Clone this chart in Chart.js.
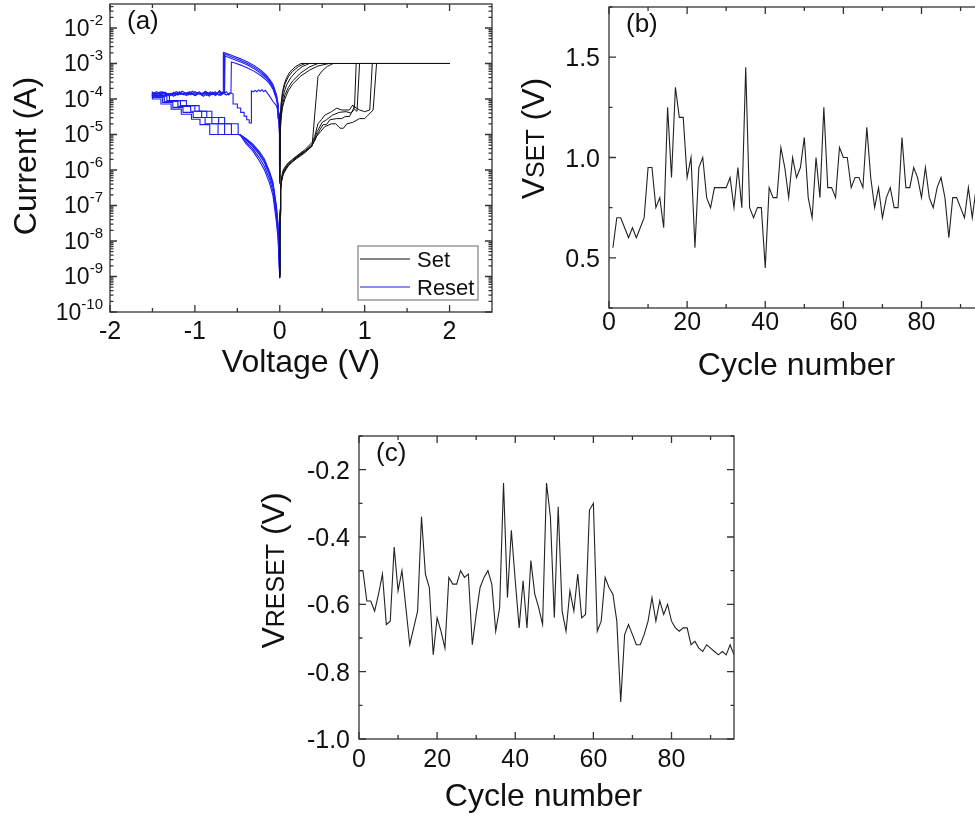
<!DOCTYPE html>
<html>
<head>
<meta charset="utf-8">
<script src="https://cdn.jsdelivr.net/npm/chart.js@4.4.1/dist/chart.umd.min.js"></script>
<style>
  html, body { margin: 0; padding: 0; background: #fff; overflow: hidden; width: 975px; height: 816px; }
  canvas { position: absolute; }
</style>
</head>
<body>
<canvas id="graficoIV" width="510" height="400" style="left:0;top:0"></canvas>
<canvas id="graficoVset" width="500" height="400" style="left:500px;top:0"></canvas>
<canvas id="graficoVreset" width="500" height="396" style="left:250px;top:420px"></canvas>
<script>
// ---- (a) barridos I-V: pares [voltaje (V), corriente (A)] ----
const setSweep1 = [[0,9e-10],[0.003,6e-8],[0.01,3e-7],[0.02,5e-7],[0.04,8e-7],[0.07,1.1e-6],[0.1,1.4e-6],[0.15,1.8e-6],[0.2,2.3e-6],[0.3,3.4e-6],[0.38,4.6e-6],[0.45,4.3e-4],[0.5,6.2e-4],[0.56,8.3e-4],[0.63,1e-3],[2,1e-3],[0.3,1e-3],[0.22,8.2e-4],[0.15,6e-4],[0.1,4.2e-4],[0.06,2.6e-4],[0.04,1.7e-4],[0.02,8.5e-5],[0.01,4e-5],[0.004,1.2e-5],[0,5e-7]];
const setSweep2 = [[0,1.2e-9],[0.003,8e-8],[0.01,3.5e-7],[0.02,6e-7],[0.04,1e-6],[0.07,1.3e-6],[0.1,1.6e-6],[0.15,2e-6],[0.2,2.5e-6],[0.3,3.8e-6],[0.38,6e-6],[0.41,8.7e-6],[0.45,2e-5],[0.49,2.6e-5],[0.53,3.5e-5],[0.61,4.4e-5],[0.67,5.5e-5],[0.73,4.9e-5],[0.82,4.9e-5],[0.86,6.8e-5],[0.88,5.5e-5],[0.9,1e-3],[2,1e-3],[0.25,1e-3],[0.18,8e-4],[0.12,5.8e-4],[0.08,4e-4],[0.05,2.5e-4],[0.03,1.5e-4],[0.015,7e-5],[0.006,2.5e-5],[0,6e-7]];
const setSweep3 = [[0,1e-9],[0.003,5e-8],[0.01,2.6e-7],[0.02,4.5e-7],[0.04,7.5e-7],[0.07,1e-6],[0.1,1.3e-6],[0.15,1.7e-6],[0.2,2.1e-6],[0.3,3.1e-6],[0.38,4.8e-6],[0.44,1.2e-5],[0.5,2.2e-5],[0.55,2.6e-5],[0.62,3.5e-5],[0.7,4.2e-5],[0.78,4.4e-5],[0.84,4e-5],[0.88,5.2e-5],[0.91,4.5e-5],[0.94,1e-3],[2,1e-3],[0.45,1e-3],[0.35,8e-4],[0.25,5.5e-4],[0.15,3.2e-4],[0.1,2.1e-4],[0.06,1.3e-4],[0.03,6.5e-5],[0.015,3e-5],[0.005,1e-5],[0,4.5e-7]];
const setSweep4 = [[0,1e-9],[0.003,7e-8],[0.01,3.2e-7],[0.02,5.5e-7],[0.04,9e-7],[0.07,1.2e-6],[0.1,1.5e-6],[0.15,1.9e-6],[0.2,2.4e-6],[0.3,3.5e-6],[0.38,5.2e-6],[0.41,6.5e-6],[0.45,1.1e-5],[0.51,1.9e-5],[0.55,1.9e-5],[0.59,2.6e-5],[0.67,2.8e-5],[0.73,2.8e-5],[0.77,3.2e-5],[0.82,3.2e-5],[0.88,6e-5],[0.94,4.9e-5],[1.0,4.4e-5],[1.06,4.9e-5],[1.09,1e-3],[2,1e-3],[0.35,1e-3],[0.27,8.3e-4],[0.2,6.2e-4],[0.13,4e-4],[0.08,2.5e-4],[0.05,1.5e-4],[0.025,7.5e-5],[0.012,3.5e-5],[0.004,1e-5],[0,5e-7]];
const setSweep5 = [[0,1.1e-9],[0.003,6e-8],[0.01,2.8e-7],[0.02,4.8e-7],[0.04,8e-7],[0.07,1.1e-6],[0.1,1.35e-6],[0.15,1.75e-6],[0.2,2.2e-6],[0.3,3.3e-6],[0.38,4.9e-6],[0.43,8.7e-6],[0.48,1.2e-5],[0.53,1.66e-5],[0.61,2e-5],[0.66,2e-5],[0.71,1.5e-5],[0.75,1.5e-5],[0.79,2e-5],[0.86,2.2e-5],[0.94,2.8e-5],[1.0,2.8e-5],[1.04,3.5e-5],[1.1,4.9e-5],[1.14,1e-3],[2,1e-3],[0.58,1e-3],[0.45,8.5e-4],[0.35,6.5e-4],[0.25,4.5e-4],[0.15,2.6e-4],[0.1,1.7e-4],[0.06,1e-4],[0.03,5.5e-5],[0.012,2.5e-5],[0.004,8e-6],[0,4e-7]];

const resetSweep1 = [[0,1.6e-6],[-0.003,1.6e-5],[-0.01,4.2e-5],[-0.02,7.5e-5],[-0.04,1.35e-4],[-0.08,2.6e-4],[-0.12,3.6e-4],[-0.16,4.7e-4],[-0.22,6.4e-4],[-0.3,8.7e-4],[-0.38,1.1e-3],[-0.46,1.35e-3],[-0.54,1.6e-3],[-0.6,1.82e-3],[-0.64,1.97e-3],[-0.66,2.05e-3],
  [-0.665,1.45e-4],[-0.69,1.3e-4],[-0.72,1.6e-4],[-0.76,1.25e-4],[-0.8,1.5e-4],[-0.84,1.3e-4],[-0.88,1.65e-4],[-0.92,1.3e-4],[-0.97,1.5e-4],[-1.01,1.35e-4],[-1.06,1.6e-4],[-1.1,1.25e-4],[-1.15,1.45e-4],[-1.2,1.3e-4],[-1.25,1.55e-4],[-1.3,1.2e-4],[-1.35,1.5e-4],[-1.4,1.3e-4],[-1.45,1.45e-4],[-1.5,1.35e-4],
  [-1.5,1.0e-4],[-1.4,1.0e-4],[-1.4,7.2e-5],[-1.28,7.2e-5],[-1.28,5.2e-5],[-1.16,5.2e-5],[-1.16,3.7e-5],[-1.04,3.7e-5],[-1.04,2.7e-5],[-0.94,2.7e-5],[-0.94,1.9e-5],[-0.825,1.9e-5],[-0.825,1.0e-5],[-0.47,1.0e-5],
  [-0.4,7.8e-6],[-0.32,5.4e-6],[-0.24,3.3e-6],[-0.18,2e-6],[-0.12,9e-7],[-0.08,4.5e-7],[-0.04,1e-7],[-0.02,3e-8],[-0.008,6e-9],[0,1.2e-9]];
const resetSweep2 = [[0,1.4e-6],[-0.003,1.4e-5],[-0.01,3.8e-5],[-0.02,6.8e-5],[-0.04,1.2e-4],[-0.08,2.35e-4],[-0.12,3.3e-4],[-0.16,4.3e-4],[-0.22,5.8e-4],[-0.3,7.9e-4],[-0.38,1.0e-3],[-0.46,1.22e-3],[-0.54,1.45e-3],[-0.6,1.65e-3],[-0.63,1.78e-3],[-0.65,1.85e-3],
  [-0.655,1.6e-4],[-0.68,1.4e-4],[-0.71,1.7e-4],[-0.75,1.35e-4],[-0.79,1.55e-4],[-0.83,1.2e-4],[-0.87,1.45e-4],[-0.91,1.35e-4],[-0.95,1.6e-4],[-0.99,1.25e-4],[-1.04,1.4e-4],[-1.08,1.55e-4],[-1.13,1.3e-4],[-1.18,1.6e-4],[-1.23,1.25e-4],[-1.28,1.45e-4],[-1.33,1.3e-4],[-1.38,1.6e-4],[-1.43,1.2e-4],[-1.47,1.5e-4],[-1.5,1.3e-4],
  [-1.5,1.1e-4],[-1.38,1.1e-4],[-1.38,8e-5],[-1.26,8e-5],[-1.26,5.8e-5],[-1.14,5.8e-5],[-1.14,4.2e-5],[-1.02,4.2e-5],[-1.02,3e-5],[-0.88,3e-5],[-0.88,2e-5],[-0.727,2e-5],[-0.727,1e-5],[-0.47,1e-5],
  [-0.4,7e-6],[-0.32,4.6e-6],[-0.24,2.7e-6],[-0.18,1.6e-6],[-0.12,7e-7],[-0.08,3.3e-7],[-0.04,7e-8],[-0.02,2e-8],[-0.008,4e-9],[0,1e-9]];
const resetSweep3 = [[0,1.3e-6],[-0.003,1.2e-5],[-0.01,3.4e-5],[-0.02,6e-5],[-0.04,1.1e-4],[-0.08,2.1e-4],[-0.12,3e-4],[-0.16,3.9e-4],[-0.22,5.2e-4],[-0.3,7.1e-4],[-0.38,9e-4],[-0.46,1.1e-3],[-0.54,1.3e-3],[-0.6,1.48e-3],[-0.63,1.58e-3],[-0.645,1.65e-3],
  [-0.65,1.4e-4],[-0.68,1.55e-4],[-0.72,1.3e-4],[-0.76,1.6e-4],[-0.8,1.3e-4],[-0.85,1.5e-4],[-0.9,1.2e-4],[-0.94,1.45e-4],[-0.98,1.35e-4],[-1.03,1.65e-4],[-1.08,1.3e-4],[-1.12,1.5e-4],[-1.17,1.35e-4],[-1.22,1.6e-4],[-1.27,1.3e-4],[-1.32,1.4e-4],[-1.37,1.2e-4],[-1.42,1.55e-4],[-1.47,1.25e-4],[-1.5,1.5e-4],
  [-1.5,1.15e-4],[-1.36,1.15e-4],[-1.36,8.5e-5],[-1.2,8.5e-5],[-1.2,6.2e-5],[-1.05,6.2e-5],[-1.05,4.5e-5],[-0.92,4.5e-5],[-0.92,3e-5],[-0.8,3e-5],[-0.8,2e-5],[-0.65,2e-5],[-0.65,1e-5],[-0.47,1e-5],
  [-0.4,6.2e-6],[-0.32,4e-6],[-0.24,2.2e-6],[-0.18,1.25e-6],[-0.12,5.5e-7],[-0.08,2.5e-7],[-0.04,5e-8],[-0.02,1.5e-8],[-0.008,3e-9],[0,9e-10]];
const resetSweep4 = [[0,1.2e-6],[-0.003,1e-5],[-0.01,3e-5],[-0.02,5.5e-5],[-0.04,1e-4],[-0.08,1.9e-4],[-0.12,2.7e-4],[-0.16,3.4e-4],[-0.22,4.5e-4],[-0.3,6e-4],[-0.38,7.5e-4],[-0.46,9e-4],[-0.52,1.02e-3],[-0.57,1.1e-3],
  [-0.575,1.5e-4],[-0.6,1.3e-4],[-0.63,1.6e-4],[-0.67,1.4e-4],[-0.71,1.7e-4],[-0.75,1.3e-4],[-0.79,1.5e-4],[-0.83,1.4e-4],[-0.87,1.6e-4],[-0.92,1.3e-4],[-0.96,1.45e-4],[-1.0,1.25e-4],[-1.05,1.5e-4],[-1.1,1.4e-4],[-1.15,1.65e-4],[-1.2,1.3e-4],[-1.25,1.4e-4],[-1.3,1.25e-4],[-1.35,1.55e-4],[-1.4,1.35e-4],[-1.45,1.6e-4],[-1.5,1.4e-4],
  [-1.5,1.2e-4],[-1.33,1.2e-4],[-1.33,9e-5],[-1.17,9e-5],[-1.17,6.5e-5],[-1.0,6.5e-5],[-1.0,4.5e-5],[-0.86,4.5e-5],[-0.86,3e-5],[-0.72,3e-5],[-0.72,2e-5],[-0.57,2e-5],[-0.57,1e-5],[-0.47,1e-5],
  [-0.4,5.6e-6],[-0.32,3.5e-6],[-0.24,1.8e-6],[-0.18,1e-6],[-0.12,4.2e-7],[-0.08,1.9e-7],[-0.04,3.5e-8],[-0.02,1.1e-8],[-0.008,2.5e-9],[0,9e-10]];
const resetSweep5 = [[0,1.2e-6],[-0.003,1e-5],[-0.01,2.8e-5],[-0.02,4.5e-5],[-0.04,6.5e-5],[-0.08,8.5e-5],[-0.12,1.2e-4],[-0.17,1.75e-4],[-0.19,1.6e-4],[-0.21,1.85e-4],[-0.23,1.65e-4],[-0.25,1.8e-4],[-0.27,1.6e-4],[-0.29,1.75e-4],[-0.31,1.6e-4],[-0.334,1.7e-4],
  [-0.334,2.1e-5],[-0.36,2.1e-5],[-0.36,2.6e-5],[-0.39,2.6e-5],[-0.39,3.3e-5],[-0.42,3.3e-5],[-0.42,4.2e-5],[-0.46,4.2e-5],[-0.46,5.6e-5],[-0.5,5.6e-5],[-0.5,7.2e-5],[-0.55,7.2e-5],[-0.55,1.4e-4],
  [-0.59,1.5e-4],[-0.63,1.3e-4],[-0.67,1.55e-4],[-0.7,1.25e-4],[-0.74,1.45e-4],[-0.78,1.35e-4],[-0.82,1.6e-4],[-0.86,1.25e-4],[-0.9,1.5e-4],[-0.95,1.4e-4],[-1.0,1.6e-4],[-1.05,1.3e-4],[-1.1,1.5e-4],[-1.15,1.35e-4],[-1.2,1.55e-4],[-1.25,1.2e-4],[-1.3,1.45e-4],[-1.35,1.3e-4],[-1.4,1.6e-4],[-1.45,1.3e-4],[-1.5,1.55e-4],
  [-1.5,1.25e-4],[-1.3,1.25e-4],[-1.3,9e-5],[-1.1,9e-5],[-1.1,6.5e-5],[-0.95,6.5e-5],[-0.95,4.5e-5],[-0.8,4.5e-5],[-0.8,3e-5],[-0.65,3e-5],[-0.65,2e-5],[-0.49,2e-5],[-0.49,1e-5],[-0.45,9.2e-6],
  [-0.4,7.4e-6],[-0.32,5e-6],[-0.24,3e-6],[-0.18,1.8e-6],[-0.12,8e-7],[-0.08,4e-7],[-0.04,8.5e-8],[-0.02,2.5e-8],[-0.008,5e-9],[0,1.1e-9]];

const setSweeps = [setSweep1, setSweep2, setSweep3, setSweep4, setSweep5];
const resetSweeps = [resetSweep1, resetSweep2, resetSweep3, resetSweep4, resetSweep5];

// ---- (b) VSET por ciclo (ciclos 1..94) ----
const vsetValues = [0.55,0.70,0.70,0.65,0.60,0.65,0.60,0.65,0.70,0.95,0.95,0.75,0.80,0.65,1.25,0.90,1.35,1.20,1.20,0.90,
  1.00,0.55,0.95,1.00,0.80,0.75,0.85,0.85,0.85,0.85,0.90,0.75,0.95,0.75,1.45,0.75,0.70,0.75,0.75,0.45,
  0.85,0.80,0.80,1.05,0.95,0.80,1.00,0.90,0.95,1.10,0.80,0.70,1.00,0.80,1.25,0.85,0.85,0.80,1.05,1.00,
  1.00,0.85,0.90,0.90,0.85,1.15,0.90,0.75,0.85,0.70,0.80,0.85,0.75,0.75,1.10,0.85,0.85,0.95,0.90,0.80,
  0.95,0.80,0.75,0.85,0.90,0.80,0.60,0.80,0.80,0.75,0.70,0.85,0.70,0.85];
const vsetFirstCycle = 1;

// ---- (c) VRESET por ciclo (ciclos 0..96) ----
const vresetValues = [-0.50,-0.50,-0.59,-0.59,-0.62,-0.57,-0.51,-0.66,-0.65,-0.43,-0.56,-0.50,-0.61,-0.72,-0.67,-0.62,-0.34,-0.51,-0.55,-0.75,
  -0.64,-0.68,-0.73,-0.52,-0.54,-0.54,-0.50,-0.52,-0.51,-0.72,-0.63,-0.55,-0.52,-0.50,-0.54,-0.68,-0.61,-0.24,-0.58,-0.38,
  -0.53,-0.67,-0.53,-0.67,-0.47,-0.57,-0.61,-0.66,-0.24,-0.34,-0.64,-0.31,-0.62,-0.68,-0.56,-0.62,-0.51,-0.64,-0.63,-0.32,
  -0.30,-0.68,-0.65,-0.52,-0.55,-0.57,-0.65,-0.89,-0.69,-0.66,-0.69,-0.72,-0.72,-0.69,-0.65,-0.58,-0.65,-0.59,-0.63,-0.60,
  -0.65,-0.67,-0.68,-0.67,-0.67,-0.72,-0.71,-0.73,-0.74,-0.72,-0.73,-0.74,-0.75,-0.74,-0.75,-0.72,-0.75];
const vresetFirstCycle = 0;

// ---- marcas de ejes ----
const voltageTicks = [-2, -1, 0, 1, 2];
const voltageMinor = [-1.5, -0.5, 0.5, 1.5];
const currentDecades = [-10, -9, -8, -7, -6, -5, -4, -3, -2];
const cycleTicks = [0, 20, 40, 60, 80];
const cycleMinor = [10, 30, 50, 70, 90];
const vsetTicks = [0.5, 1.0, 1.5];
const vsetMinor = [0.25, 0.75, 1.25, 1.75];
const vresetTicks = [-1.0, -0.8, -0.6, -0.4, -0.2];
const vresetMinor = [-0.9, -0.7, -0.5, -0.3, -0.1];

const FUENTE = '"Liberation Sans", Arial, sans-serif';

function texto(ctx, str, x, y, size, align, baseline) {
  ctx.save();
  ctx.font = size + 'px ' + FUENTE;
  ctx.textAlign = align;
  ctx.textBaseline = baseline;
  ctx.fillStyle = '#111';
  ctx.fillText(str, x, y);
  ctx.restore();
}

// titulo vertical con partes de distinto tamaño, ej. V + SET + (V)
function tituloVertical(ctx, partes, x, yCentro) {
  ctx.save();
  ctx.translate(x, yCentro);
  ctx.rotate(-Math.PI / 2);
  ctx.fillStyle = '#111';
  ctx.textBaseline = 'alphabetic';
  ctx.textAlign = 'left';
  let total = 0;
  partes.forEach(p => { ctx.font = p[1] + 'px ' + FUENTE; total += ctx.measureText(p[0]).width; });
  let u = -total / 2;
  partes.forEach(p => {
    ctx.font = p[1] + 'px ' + FUENTE;
    ctx.fillText(p[0], u, 0);
    u += ctx.measureText(p[0]).width;
  });
  ctx.restore();
}

// marco, marcas hacia adentro, etiquetas y titulos
const marcoEjes = {
  id: 'marcoEjes',
  afterDatasetsDraw(chart, args, o) {
    const { ctx, chartArea: a } = chart;
    const sx = chart.scales.x, sy = chart.scales.y;
    ctx.save();
    ctx.strokeStyle = '#333';
    ctx.lineWidth = 1.3;
    ctx.strokeRect(a.left, a.top, a.right - a.left, a.bottom - a.top);
    ctx.beginPath();
    const marcasX = (vals, len) => vals.forEach(v => {
      const px = sx.getPixelForValue(v);
      ctx.moveTo(px, a.bottom); ctx.lineTo(px, a.bottom - len);
      ctx.moveTo(px, a.top); ctx.lineTo(px, a.top + len);
    });
    const marcasY = (vals, len) => vals.forEach(v => {
      const py = sy.getPixelForValue(v);
      ctx.moveTo(a.left, py); ctx.lineTo(a.left + len, py);
      ctx.moveTo(a.right, py); ctx.lineTo(a.right - len, py);
    });
    marcasX(o.xMajor, 7); marcasX(o.xMinor, 4);
    marcasY(o.yMajor, 7); marcasY(o.yMinor, 3.5);
    ctx.stroke();
    ctx.restore();

    o.xMajor.forEach(v => texto(ctx, o.xFmt(v), sx.getPixelForValue(v), a.bottom + o.xLabelGap, o.tickSize, 'center', 'alphabetic'));
    if (o.yLog) {
      o.yMajor.forEach(v => {
        const py = sy.getPixelForValue(v);
        const e = String(Math.round(Math.log10(v)));
        ctx.save();
        ctx.font = o.expSize + 'px ' + FUENTE;
        const we = ctx.measureText(e).width;
        ctx.restore();
        const xr = a.left - 7;
        texto(ctx, e, xr, py - 3, o.expSize, 'right', 'alphabetic');
        texto(ctx, '10', xr - we, py + 8, o.logSize, 'right', 'alphabetic');
      });
    } else {
      o.yMajor.forEach(v => texto(ctx, o.yFmt(v), a.left - 9, sy.getPixelForValue(v) + 9, o.tickSize, 'right', 'alphabetic'));
    }
    texto(ctx, o.xTitle, (a.left + a.right) / 2 + o.xTitleShift, a.bottom + o.xTitleGap, o.titleSize, 'center', 'alphabetic');
    tituloVertical(ctx, o.yTitle, a.left - o.yTitleGap, (a.top + a.bottom) / 2 + o.yTitleShift);
    texto(ctx, o.panel, a.left + 17, a.top + 25, o.panelSize, 'left', 'alphabetic');

    if (o.legend) {
      const bw = 120, bh = 54;
      const bx = a.right - 14 - bw, by = a.bottom - 12 - bh;
      ctx.save();
      ctx.strokeStyle = '#666';
      ctx.lineWidth = 1;
      ctx.strokeRect(bx, by, bw, bh);
      o.legend.forEach((it, i) => {
        const ly = by + 13 + i * 28;
        ctx.strokeStyle = it.color;
        ctx.lineWidth = 1.2;
        ctx.beginPath(); ctx.moveTo(bx + 2, ly); ctx.lineTo(bx + 52, ly); ctx.stroke();
        texto(ctx, it.label, bx + 59, ly + 8, 22, 'left', 'alphabetic');
      });
      ctx.restore();
    }
  }
};

const comunes = {
  responsive: false,
  animation: false,
  events: [],
  plugins: { legend: { display: false }, tooltip: { enabled: false } },
  elements: { point: { radius: 0 }, line: { tension: 0 } }
};

function aPuntos(par) { return par.map(p => ({ x: p[0], y: p[1] })); }

// ---- (a) I-V ----
const curvasIV = [];
setSweeps.forEach(s => curvasIV.push({ data: aPuntos(s), borderColor: '#111', borderWidth: 1 }));
resetSweeps.forEach(s => curvasIV.push({ data: aPuntos(s), borderColor: '#1c1cf5', borderWidth: 1.1 }));

const logMinor = [];
currentDecades.forEach(e => { for (let m = 2; m <= 9; m++) { const v = m * Math.pow(10, e); if (v < 0.047) logMinor.push(v); } });

new Chart(document.getElementById('graficoIV').getContext('2d'), {
  type: 'line',
  data: { datasets: curvasIV },
  options: Object.assign({}, comunes, {
    layout: { padding: { left: 110, top: 4, right: 18, bottom: 88 } },
    scales: {
      x: { type: 'linear', min: -2, max: 2.5, display: false },
      y: { type: 'logarithmic', min: 1e-10, max: 0.0474, display: false }
    },
    plugins: Object.assign({}, comunes.plugins, {
      marcoEjes: {
        xMajor: voltageTicks, xMinor: voltageMinor,
        yMajor: currentDecades.map(e => Math.pow(10, e)), yMinor: logMinor, yLog: true,
        xFmt: v => String(v), tickSize: 25, logSize: 23, expSize: 15,
        xLabelGap: 27, xTitle: 'Voltage (V)', xTitleShift: 0, xTitleGap: 60, titleSize: 32,
        yTitle: [['Current (A)', 32]], yTitleGap: 74, yTitleShift: -2,
        panel: '(a)', panelSize: 26,
        legend: [{ label: 'Set', color: '#111' }, { label: 'Reset', color: '#1c1cf5' }]
      }
    })
  }),
  plugins: [marcoEjes]
});

// ---- (b) VSET ----
new Chart(document.getElementById('graficoVset').getContext('2d'), {
  type: 'line',
  data: { datasets: [{ data: vsetValues.map((v, i) => ({ x: i + vsetFirstCycle, y: v })), borderColor: '#222', borderWidth: 1.1 }] },
  options: Object.assign({}, comunes, {
    layout: { padding: { left: 109, top: 7, right: 16, bottom: 92 } },
    scales: {
      x: { type: 'linear', min: 0, max: 96, display: false },
      y: { type: 'linear', min: 0.25, max: 1.75, display: false }
    },
    plugins: Object.assign({}, comunes.plugins, {
      marcoEjes: {
        xMajor: cycleTicks, xMinor: cycleMinor, yMajor: vsetTicks, yMinor: vsetMinor,
        xFmt: v => String(v), yFmt: v => v.toFixed(1), tickSize: 25,
        xLabelGap: 22, xTitle: 'Cycle number', xTitleShift: 0, xTitleGap: 67, titleSize: 32,
        yTitle: [['V', 32], ['SET', 25], [' (V)', 32]], yTitleGap: 65, yTitleShift: -19,
        panel: '(b)', panelSize: 26
      }
    })
  }),
  plugins: [marcoEjes]
});

// ---- (c) VRESET ----
new Chart(document.getElementById('graficoVreset').getContext('2d'), {
  type: 'line',
  data: { datasets: [{ data: vresetValues.map((v, i) => ({ x: i + vresetFirstCycle, y: v })), borderColor: '#222', borderWidth: 1.1 }] },
  options: Object.assign({}, comunes, {
    layout: { padding: { left: 109, top: 16, right: 16, bottom: 77 } },
    scales: {
      x: { type: 'linear', min: 0, max: 96, display: false },
      y: { type: 'linear', min: -1.0, max: -0.1, display: false }
    },
    plugins: Object.assign({}, comunes.plugins, {
      marcoEjes: {
        xMajor: cycleTicks, xMinor: cycleMinor, yMajor: vresetTicks, yMinor: vresetMinor,
        xFmt: v => String(v), yFmt: v => v.toFixed(1), tickSize: 25,
        xLabelGap: 28, xTitle: 'Cycle number', xTitleShift: -3, xTitleGap: 67, titleSize: 32,
        yTitle: [['V', 32], ['RESET', 25], [' (V)', 32]], yTitleGap: 75, yTitleShift: -17,
        panel: '(c)', panelSize: 26
      }
    })
  }),
  plugins: [marcoEjes]
});
</script>
</body>
</html>
